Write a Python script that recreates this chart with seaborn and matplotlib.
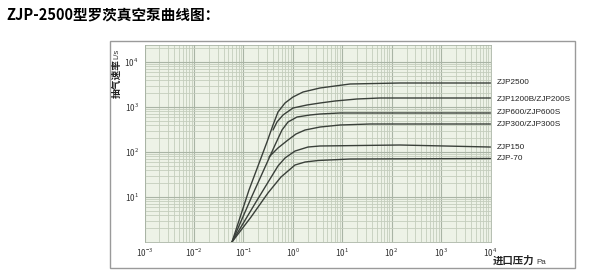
import numpy as np
import pandas as pd
import matplotlib
matplotlib.use("Agg")
import matplotlib.pyplot as plt
from matplotlib.ticker import LogLocator, NullFormatter, LogFormatterSciNotation, FixedLocator
from matplotlib.patches import Rectangle
import seaborn as sns

# ---------------- data ----------------
models = ["ZJP2500", "ZJP1200B/ZJP200S", "ZJP600/ZJP600S",
          "ZJP300/ZJP300S", "ZJP150", "ZJP-70"]

p_2500 = [0.0589, 0.130, 0.301, 0.398, 0.502, 0.696, 1.01, 1.61, 3.55, 7.14, 14.4, 148, 10000]
s_2500 = [1, 14.3, 167, 398, 774, 1227, 1668, 2154, 2644, 2929, 3245, 3415, 3415]

p_1200 = [0.398, 0.479, 0.634, 1.01, 1.94, 3.55, 7.14, 19.9, 58, 10000]
s_1200 = [308, 464, 664, 950, 1108, 1227, 1359, 1506, 1585, 1585]

p_600 = [0.0589, 0.1496, 0.437, 0.605, 0.800, 1.216, 2.23, 3.55, 9.02, 10000]
s_600 = [1, 10.5, 143, 308, 464, 599, 664, 699, 736, 736]

p_300 = [0.330, 0.502, 0.800, 1.161, 1.77, 3.55, 9.02, 36.5, 10000]
s_300 = [77.4, 123, 185, 251, 308, 359, 398, 419, 419]

p_150 = [0.0589, 0.180, 0.346, 0.502, 0.696, 1.108, 2.03, 3.55, 148, 10000]
s_150 = [1, 7.74, 25.1, 48.9, 73.6, 105, 129, 136, 143, 129]

p_70 = [0.0589, 0.143, 0.315, 0.577, 1.108, 1.77, 3.24, 14.4, 10000]
s_70 = [1, 3.59, 12.3, 27.8, 51.4, 59.9, 64.7, 69.9, 71.7]

pressures = [p_2500, p_1200, p_600, p_300, p_150, p_70]
speeds = [s_2500, s_1200, s_600, s_300, s_150, s_70]

title = "ZJP-2500型罗茨真空泵曲线图："
ylabel_cn = "抽气速率"
ylabel_unit = "L/s"
xlabel_cn = "进口压力"
xlabel_unit = "Pa"

# ---------------- styles / layout ----------------
label_dy_pt = [0, -1, 0, 0, 0, 0]   # vertical nudges of the right-hand labels
bg = "#edf2e7"
minor_c = "#c4cdbd"
major_c = "#a9b4a5"
line_c = "#3a403a"

sns.set_theme(style="white")
plt.rcParams["font.family"] = ["Noto Sans CJK SC", "DejaVu Sans"]
plt.rcParams["mathtext.fontset"] = "custom"
plt.rcParams["mathtext.rm"] = "Liberation Sans"
plt.rcParams["mathtext.it"] = "Liberation Sans"
plt.rcParams["mathtext.bf"] = "Liberation Sans"

frames = []
for name, p, s in zip(models, pressures, speeds):
    frames.append(pd.DataFrame({"model": name, "pressure": p, "speed": s}))
df = pd.concat(frames, ignore_index=True)

fig = plt.figure(figsize=(6.03, 2.79), dpi=100)
fig.patch.set_facecolor("white")

# outer frame
fig.patches.append(Rectangle((110 / 603, 1 - 268 / 279), (575 - 110) / 603, (268 - 41) / 279,
                             transform=fig.transFigure, fill=False,
                             edgecolor="#9a9a9a", lw=1.0))

ax = fig.add_axes([144.5 / 603, 1 - 242 / 279, (490.5 - 144.5) / 603, (242 - 45) / 279])
ax.set_facecolor(bg)

sns.lineplot(data=df, x="pressure", y="speed", hue="model", units="model",
             estimator=None, sort=False, palette=[line_c] * len(models),
             linewidth=1.0, legend=False, ax=ax)

ax.set_xscale("log")
ax.set_yscale("log")
ax.set_xlim(1e-3, 1e4)
ax.set_ylim(1, 10 ** (197 / 45))

ax.xaxis.set_major_locator(LogLocator(base=10, numticks=30))
ax.xaxis.set_minor_locator(LogLocator(base=10, subs=np.arange(2, 10), numticks=100))
ax.yaxis.set_major_locator(FixedLocator([10, 100, 1000, 10000]))
ax.yaxis.set_minor_locator(LogLocator(base=10, subs=np.arange(2, 10), numticks=100))
ax.xaxis.set_major_formatter(LogFormatterSciNotation())
ax.yaxis.set_major_formatter(LogFormatterSciNotation())
ax.xaxis.set_minor_formatter(NullFormatter())
ax.yaxis.set_minor_formatter(NullFormatter())

ax.grid(which="minor", color=minor_c, lw=0.6)
ax.grid(which="major", color=major_c, lw=0.8)
ax.set_axisbelow(True)
ax.tick_params(which="both", length=0, labelsize=6, labelcolor="#333333")
ax.tick_params(axis="x", pad=3)
ax.tick_params(axis="y", pad=4)
for sp in ax.spines.values():
    sp.set_color(major_c)
    sp.set_linewidth(0.6)
ax.set_xlabel("")
ax.set_ylabel("")

# right-hand labels
for name, s, dy in zip(models, speeds, label_dy_pt):
    ax.annotate(name, xy=(1, s[-1]), xycoords=("axes fraction", "data"),
                xytext=(4.7, dy), textcoords="offset points",
                ha="left", va="center", fontsize=5.9, color="#222222",
                family="Liberation Sans", annotation_clip=False)

# title
fig.text(6 / 603, 1 - 14 / 279, title, ha="left", va="center",
         fontsize=10.5, fontweight="bold", color="black")

# y label
fig.text(117 / 603, 1 - 98 / 279, ylabel_cn, rotation=90, ha="center", va="bottom",
         fontsize=7, fontweight="bold", color="#222222")
fig.text(117 / 603, 1 - 59 / 279, ylabel_unit, rotation=90, ha="center", va="bottom",
         fontsize=5.5, color="#333333", family="Liberation Sans")

# x label
fig.text(493 / 603, 1 - 261 / 279, xlabel_cn, ha="left", va="center",
         fontsize=7.5, fontweight="bold", color="#222222")
fig.text(536 / 603, 1 - 262 / 279, xlabel_unit, ha="left", va="center",
         fontsize=5.8, color="#333333", family="Liberation Sans")

fig.savefig("out.png", dpi=100, facecolor="white")
